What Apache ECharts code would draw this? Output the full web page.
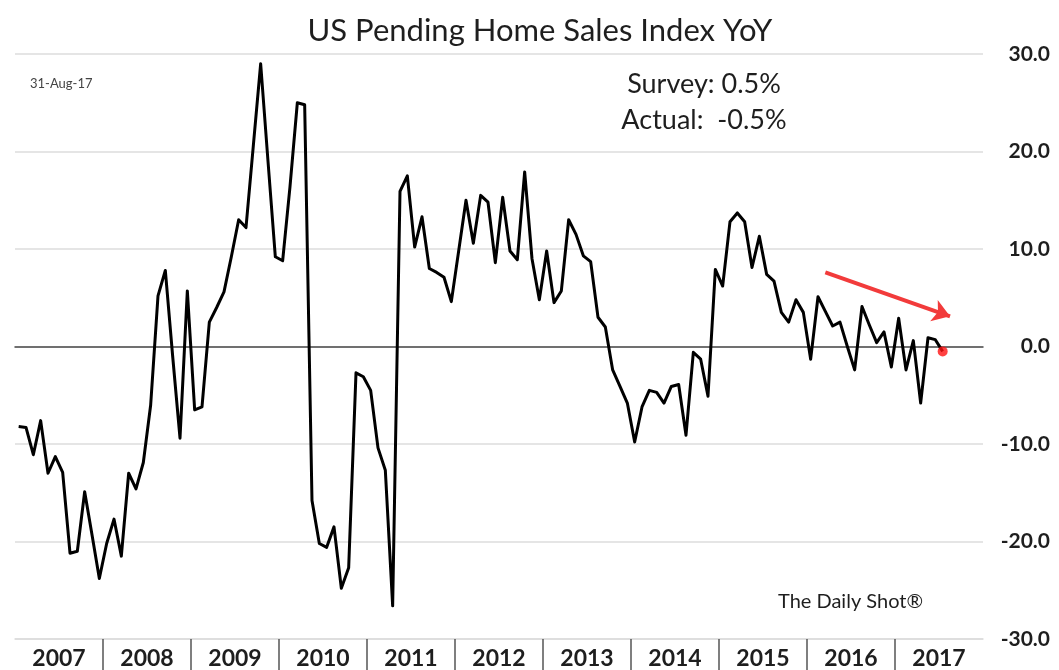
<!DOCTYPE html>
<html><head><meta charset="utf-8">
<script src="https://cdn.jsdelivr.net/npm/echarts@6/dist/echarts.min.js"></script>
<style>html,body{margin:0;padding:0;background:#fff}#c{width:1059px;height:670px}</style>
</head><body><div id="c"></div>
<script>
// ---- data ----
const years = ['2007','2008','2009','2010','2011','2012','2013','2014','2015','2016','2017'];
const months = [];
years.forEach(function (y) { for (let m = 1; m <= 12; m++) months.push(y + '-' + (m < 10 ? '0' + m : m)); });
const yoy = [
  -8.2, -8.3, -11.1, -7.6, -13.0, -11.3, -12.9, -21.2, -21.0, -14.9, -19.3, -23.8,
  -20.2, -17.7, -21.5, -13.0, -14.6, -11.9, -6.0, 5.2, 7.8, -1.0, -9.4, 5.7,
  -6.5, -6.2, 2.5, 4.0, 5.6, 9.2, 13.0, 12.2, 20.6, 29.0, 19.0, 9.2,
  8.8, 16.4, 25.0, 24.8, -15.8, -20.2, -20.6, -18.5, -24.8, -22.7, -2.7, -3.1,
  -4.5, -10.4, -12.7, -26.6, 15.9, 17.5, 10.2, 13.3, 8.0, 7.6, 7.1, 4.6,
  9.8, 15.0, 10.6, 15.5, 14.8, 8.6, 15.3, 9.8, 8.9, 17.9, 9.0, 4.8,
  9.8, 4.5, 5.7, 13.0, 11.5, 9.3, 8.7, 3.0, 2.0, -2.4, -4.1, -5.8,
  -9.8, -6.2, -4.5, -4.7, -5.8, -4.1, -3.9, -9.1, -0.6, -1.3, -5.1, 7.9,
  6.2, 12.8, 13.7, 12.8, 8.1, 11.3, 7.4, 6.7, 3.5, 2.5, 4.8, 3.5,
  -1.3, 5.1, 3.6, 2.1, 2.5, 0.0, -2.4, 4.1, 2.2, 0.4, 1.5, -2.1,
  2.9, -2.4, 0.6, -5.8, 0.9, 0.7, -0.5
];
const actualPoint = [126, -0.5];
const trendArrow = [[110, 7.6], [127, 3.1]];
const yMin = -30, yMax = 30, yStep = 10;
const titleText = 'US Pending Home Sales Index YoY';
const dateText = '31-Aug-17';
const surveyText = 'Survey: 0.5%';
const actualText = 'Actual:  -0.5%';
const sourceText = 'The Daily Shot\u00AE';

// ---- chart ----
const chart = echarts.init(document.getElementById('c'), null, {renderer: 'canvas'});
const FONT = 'Lato, "Open Sans", sans-serif';
const firstYear = Number(years[0]);
const lastYear = Number(years[years.length - 1]) + 1;

chart.setOption({
  animation: false,
  backgroundColor: '#ffffff',
  grid: {left: 15, right: 76, top: 54, bottom: 31, containLabel: false},
  xAxis: [
    {
      type: 'category', data: months, boundaryGap: true,
      axisLine: {show: true, onZero: true, lineStyle: {color: '#4a4a4a', width: 1.5}},
      axisTick: {show: false}, axisLabel: {show: false}, splitLine: {show: false}
    },
    {
      type: 'value', min: firstYear, max: lastYear, position: 'bottom',
      axisLine: {show: true, onZero: false, lineStyle: {color: '#dcdcdc', width: 1.5}},
      axisTick: {show: true, length: 33, customValues: years.slice(1).map(Number),
                 lineStyle: {color: '#555', width: 1.5}},
      axisLabel: {show: true, customValues: years.map(function (y) { return Number(y) + 0.5; }),
                  formatter: function (v) { return String(Math.floor(v)); },
                  fontFamily: FONT, fontWeight: 'bold', fontSize: 23, color: '#1e1e1e', margin: 8},
      splitLine: {show: false}
    }
  ],
  yAxis: {
    type: 'value', position: 'right', min: yMin, max: yMax, interval: yStep,
    axisLine: {show: false}, axisTick: {show: false},
    splitLine: {show: true, lineStyle: {color: '#dcdcdc', width: 1.5}},
    axisLabel: {formatter: function (v) { return v.toFixed(1); }, fontFamily: FONT,
                fontWeight: 'bold', fontSize: 21, color: '#1e1e1e', align: 'right', margin: 67}
  },
  series: [
    {
      type: 'line', data: yoy, xAxisIndex: 0, symbol: 'none', z: 3,
      lineStyle: {color: '#000', width: 3, join: 'round'},
      markLine: {
        silent: true, symbol: ['none', 'arrow'], symbolSize: 17,
        label: {show: false},
        lineStyle: {color: '#f23b3b', width: 4, type: 'solid'},
        data: [[{coord: trendArrow[0]}, {coord: trendArrow[1]}]]
      }
    },
    {
      type: 'scatter', data: [actualPoint], xAxisIndex: 0, symbolSize: 10, z: 4,
      itemStyle: {color: '#ff1212'}
    }
  ],
  graphic: [
    {type: 'text', x: 540, y: 31, z: 10, style: {text: titleText, textAlign: 'center', textVerticalAlign: 'middle',
      font: '31px ' + FONT, fill: '#1e1e1e'}},
    {type: 'text', x: 30, y: 84, z: 10, style: {text: dateText, textAlign: 'left', textVerticalAlign: 'middle',
      font: '13px ' + FONT, fill: '#444'}},
    {type: 'text', x: 704, y: 84, z: 10, style: {text: surveyText, textAlign: 'center', textVerticalAlign: 'middle',
      font: '27px ' + FONT, fill: '#1e1e1e'}},
    {type: 'text', x: 704, y: 120, z: 10, style: {text: actualText, textAlign: 'center', textVerticalAlign: 'middle',
      font: '27px ' + FONT, fill: '#1e1e1e'}},
    {type: 'text', x: 778, y: 602, z: 10, style: {text: sourceText, textAlign: 'left', textVerticalAlign: 'middle',
      font: '20px ' + FONT, fill: '#1e1e1e'}}
  ]
});
</script>
</body></html>
